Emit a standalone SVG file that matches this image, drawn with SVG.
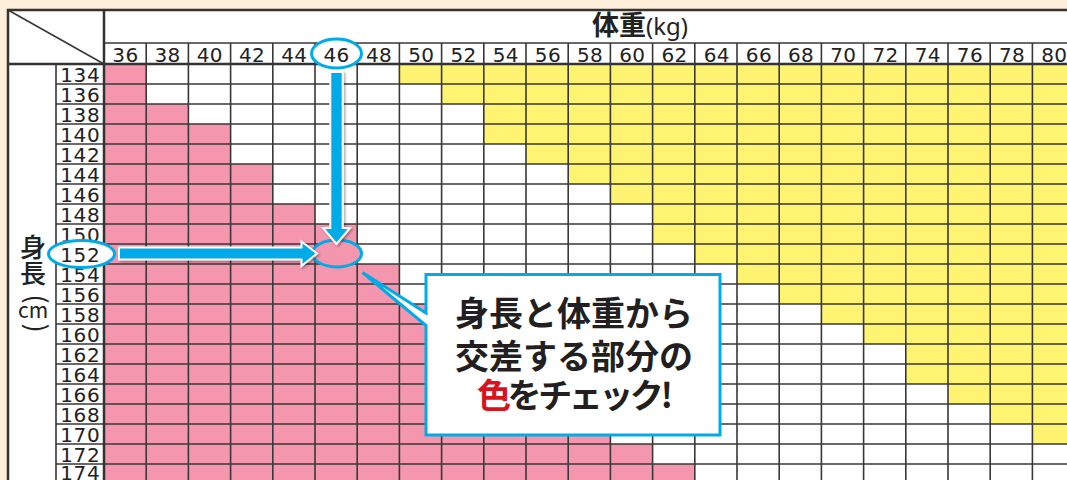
<svg xmlns="http://www.w3.org/2000/svg" width="1067" height="480" viewBox="0 0 1067 480">
<style>
.pk{fill:#f497ae}
.yl{fill:#fff372}
.gl{stroke:#383838;stroke-width:1.6;fill:none}
.fr{stroke:#333;stroke-width:2.5;fill:none}
.cn{font-family:"DejaVu Sans","Noto Sans",sans-serif;font-size:20px;fill:#222;text-anchor:middle;letter-spacing:0.3px}
.rn{font-family:"DejaVu Sans","Noto Sans",sans-serif;font-size:20px;fill:#222;text-anchor:middle;letter-spacing:0.6px}
.jp{font-family:"Noto Sans CJK JP","Noto Sans",sans-serif;fill:#222}
.ring{stroke:#00abe8;stroke-width:3}
.arr{fill:#00abe8;stroke:#fff;stroke-width:2;filter:url(#sh)}
.call{font-family:"Noto Sans CJK JP",sans-serif;font-weight:700;font-size:34px;fill:#231f20;text-anchor:middle}
</style>
<defs>
<filter id="sh" x="-20%" y="-20%" width="140%" height="140%">
<feDropShadow dx="1.5" dy="1.5" stdDeviation="1.2" flood-color="#000" flood-opacity="0.35"/>
</filter>
</defs>
<rect width="1067" height="480" fill="#fdefda"/>
<rect x="8" y="10" width="1070" height="480" fill="#fff"/>
<g id="cells">
<rect class="pk" x="104" y="64" width="42.2" height="40"/>
<rect class="pk" x="104" y="104" width="84.4" height="20"/>
<rect class="pk" x="104" y="124" width="126.6" height="40"/>
<rect class="pk" x="104" y="164" width="168.8" height="40"/>
<rect class="pk" x="104" y="204" width="211" height="20"/>
<rect class="pk" x="104" y="224" width="253.2" height="40"/>
<rect class="pk" x="104" y="264" width="295.4" height="40"/>
<rect class="pk" x="104" y="304" width="337.6" height="20"/>
<rect class="pk" x="104" y="324" width="379.8" height="40"/>
<rect class="pk" x="104" y="364" width="422" height="20"/>
<rect class="pk" x="104" y="384" width="464.2" height="40"/>
<rect class="pk" x="104" y="424" width="506.4" height="20"/>
<rect class="pk" x="104" y="444" width="548.6" height="20"/>
<rect class="pk" x="104" y="464" width="590.8" height="20"/>
<rect class="yl" x="399.4" y="64" width="680" height="20"/>
<rect class="yl" x="441.6" y="84" width="680" height="20"/>
<rect class="yl" x="483.8" y="104" width="680" height="40"/>
<rect class="yl" x="526" y="144" width="680" height="20"/>
<rect class="yl" x="568.2" y="164" width="680" height="20"/>
<rect class="yl" x="610.4" y="184" width="680" height="20"/>
<rect class="yl" x="652.6" y="204" width="680" height="40"/>
<rect class="yl" x="694.8" y="244" width="680" height="20"/>
<rect class="yl" x="737" y="264" width="680" height="20"/>
<rect class="yl" x="779.2" y="284" width="680" height="20"/>
<rect class="yl" x="821.4" y="304" width="680" height="20"/>
<rect class="yl" x="863.6" y="324" width="680" height="20"/>
<rect class="yl" x="905.8" y="344" width="680" height="40"/>
<rect class="yl" x="948" y="384" width="680" height="20"/>
<rect class="yl" x="990.2" y="404" width="680" height="20"/>
<rect class="yl" x="1032.4" y="424" width="680" height="20"/>
</g>
<g id="grid">
<path class="gl" d="M146.2 43V480M188.4 43V480M230.6 43V480M272.8 43V480M315 43V480M357.2 43V480M399.4 43V480M441.6 43V480M483.8 43V480M526 43V480M568.2 43V480M610.4 43V480M652.6 43V480M694.8 43V480M737 43V480M779.2 43V480M821.4 43V480M863.6 43V480M905.8 43V480M948 43V480M990.2 43V480M1032.4 43V480M56 64V480M104 43H1067M56 84H1067M56 104H1067M56 124H1067M56 144H1067M56 164H1067M56 184H1067M56 204H1067M56 224H1067M56 244H1067M56 264H1067M56 284H1067M56 304H1067M56 324H1067M56 344H1067M56 364H1067M56 384H1067M56 404H1067M56 424H1067M56 444H1067M56 464H1067M8 10L104 64"/>
<path class="fr" d="M8 480V10H1070M104 10V480M8 64H1067"/>
</g>
<g id="header">
<text class="jp" x="640" y="35" text-anchor="middle" font-size="27"><tspan font-weight="700">体重</tspan><tspan font-family="Noto Sans, sans-serif" font-size="24">(kg)</tspan></text>
</g>
<g id="col-labels">
<text class="cn" x="125.4" y="61.5">36</text>
<text class="cn" x="167.6" y="61.5">38</text>
<text class="cn" x="209.8" y="61.5">40</text>
<text class="cn" x="252" y="61.5">42</text>
<text class="cn" x="294.2" y="61.5">44</text>
<text class="cn" x="379.1" y="61.5">48</text>
<text class="cn" x="421.3" y="61.5">50</text>
<text class="cn" x="463.5" y="61.5">52</text>
<text class="cn" x="505.7" y="61.5">54</text>
<text class="cn" x="547.9" y="61.5">56</text>
<text class="cn" x="590.1" y="61.5">58</text>
<text class="cn" x="632.3" y="61.5">60</text>
<text class="cn" x="674.5" y="61.5">62</text>
<text class="cn" x="716.7" y="61.5">64</text>
<text class="cn" x="758.9" y="61.5">66</text>
<text class="cn" x="801.1" y="61.5">68</text>
<text class="cn" x="843.3" y="61.5">70</text>
<text class="cn" x="885.5" y="61.5">72</text>
<text class="cn" x="927.7" y="61.5">74</text>
<text class="cn" x="969.9" y="61.5">76</text>
<text class="cn" x="1012.1" y="61.5">78</text>
<text class="cn" x="1054.3" y="61.5">80</text>
</g>
<g id="row-labels">
<text class="rn" x="80.3" y="81.5">134</text>
<text class="rn" x="80.3" y="101.5">136</text>
<text class="rn" x="80.3" y="121.5">138</text>
<text class="rn" x="80.3" y="141.5">140</text>
<text class="rn" x="80.3" y="161.5">142</text>
<text class="rn" x="80.3" y="181.5">144</text>
<text class="rn" x="80.3" y="201.5">146</text>
<text class="rn" x="80.3" y="221.5">148</text>
<text class="rn" x="80.3" y="241.5">150</text>
<text class="rn" x="80.3" y="281.5">154</text>
<text class="rn" x="80.3" y="301.5">156</text>
<text class="rn" x="80.3" y="321.5">158</text>
<text class="rn" x="80.3" y="341.5">160</text>
<text class="rn" x="80.3" y="361.5">162</text>
<text class="rn" x="80.3" y="381.5">164</text>
<text class="rn" x="80.3" y="401.5">166</text>
<text class="rn" x="80.3" y="421.5">168</text>
<text class="rn" x="80.3" y="441.5">170</text>
<text class="rn" x="80.3" y="461.5">172</text>
<text class="rn" x="80.3" y="480">174</text>
</g>
<g id="axis-height">
<text class="jp" x="33" y="257" text-anchor="middle" font-size="26" font-weight="500">身</text>
<text class="jp" x="33" y="283" text-anchor="middle" font-size="26" font-weight="500">長</text>
<text class="jp" transform="translate(26.5,299) rotate(90)" text-anchor="middle" font-family="Noto Sans, sans-serif" font-size="27">(</text>
<text class="jp" x="33" y="318" text-anchor="middle" font-family="Noto Sans, sans-serif" font-size="21">cm</text>
<text class="jp" transform="translate(26.5,328) rotate(90)" text-anchor="middle" font-family="Noto Sans, sans-serif" font-size="27">)</text>
</g>
<g id="marker-46">
<ellipse class="ring" cx="336.5" cy="53.5" rx="25" ry="14.5" fill="#fff"/>
<text class="cn" x="336.5" y="61.5">46</text>
</g>
<g id="marker-152">
<ellipse class="ring" cx="81.5" cy="254" rx="33" ry="13.5" fill="#fff"/>
<text class="rn" x="80.3" y="261.5">152</text>
</g>
<g id="marker-cross">
<ellipse class="ring" cx="337" cy="253.5" rx="24.5" ry="13.5" fill="#f497ae"/>
</g>
<g id="connectors">
<polygon class="arr" points="330.3,72 342.7,72 342.7,228 350,228 336.5,244 323,228 330.3,228"/>
<polygon class="arr" points="119,247.5 301.5,247.5 301.5,241.5 317,253.5 301.5,266 301.5,259.5 119,259.5"/>
</g>
<g id="callout">
<path d="M426 274.5H720V435H426V325.5L362.5 272.5L426 313Z" fill="#fff" stroke="#00abe8" stroke-width="3" stroke-linejoin="miter"/>
<text class="call" x="574" y="326">身長と体重から</text>
<text class="call" x="574" y="369">交差する部分の</text>
<text class="call" x="575" y="408" textLength="196" lengthAdjust="spacing"><tspan fill="#d7141e">色</tspan>をチェック!</text>
</g>
</svg>
